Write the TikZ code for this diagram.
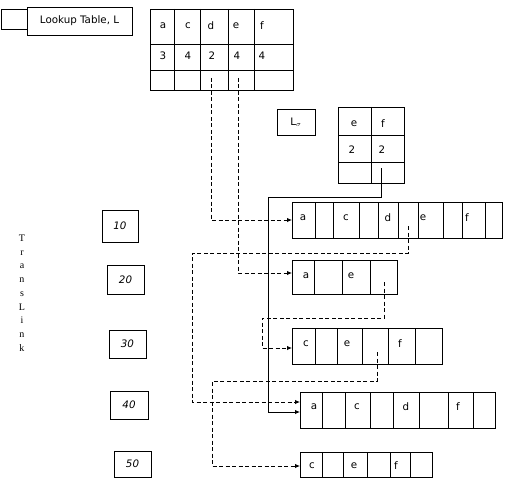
\documentclass[tikz,border=0pt]{standalone}
\usepackage{fontspec}
\setmainfont{DejaVu Sans}
\newfontfamily\tlserif{Liberation Serif}
\usetikzlibrary{arrows.meta,positioning}

\begin{document}
\begin{tikzpicture}[x=1pt,y=-1pt,
  box/.style={draw,line width=0.9pt,inner sep=0pt,outer sep=0pt},
  grid/.style={line width=0.9pt},
  lbl/.style={font=\fontsize{10.3}{12}\selectfont,inner sep=0pt},
  numbox/.style={box,font=\fontsize{10.3}{12}\selectfont\itshape},
  link/.style={line width=0.9pt,dash pattern=on 4pt off 2.5pt,-{Latex[length=5pt,width=4.5pt]}},
  tie/.style={line width=0.9pt,-{Latex[length=5pt,width=4.5pt]}}]
  \useasboundingbox (0,0) rectangle (505,481);

  % title of the lookup table
  \node[box,minimum width=26pt,minimum height=20pt] (lkTag) at (14,19) {};
  \node[box,fill=white,minimum width=105pt,minimum height=28pt,lbl] (lkName) at (79.5,21) {Lookup Table, L};

  % lookup table L
  \draw[grid] (150,9) rectangle (293,90);
  \foreach \x in {174,200,228,254} \draw[grid] (\x,9) -- (\x,90);
  \foreach \y in {44,70} \draw[grid] (150,\y) -- (293,\y);
  \foreach \x/\t [count=\i] in {163/a,188/c,211/d,236/e,262/f}
    \node[lbl] (hd\i) at (\x,26) {\t};
  \foreach \x/\t [count=\i] in {163/3,188/4,212/2,237/4,262/4}
    \node[lbl] (ct\i) at (\x,56) {\t};
  \coordinate (dL) at (211,78);
  \coordinate (eL) at (238,78);

  % table L sigma
  \node[box,minimum width=38pt,minimum height=26pt,lbl] (lsName) at (296,122) {L$_\sigma$};
  \draw[grid] (338,107) rectangle (404,183);
  \draw[grid] (371,107) -- (371,183);
  \foreach \y in {135,162} \draw[grid] (338,\y) -- (404,\y);
  \node[lbl] (shd1) at (354,124) {e};
  \node[lbl] (shd2) at (383,124) {f};
  \node[lbl] (sct1) at (352,150) {2};
  \node[lbl] (sct2) at (382,150) {2};
  \coordinate (sig) at (381,168);
  \coordinate (trunk) at (268,197);

  % TransLink list
  \node[font=\tlserif\fontsize{10}{13.75}\selectfont,align=center,inner sep=0pt] (tlName) at (22,293) {T\\r\\a\\n\\s\\L\\i\\n\\k};
  \foreach \n/\cx/\cy/\w/\h in {10/120/226/36/32,20/125.5/279.5/37/29,30/127.5/344/37/28,40/129/405/38/28,50/132.5/464/37/26}
    \node[numbox,minimum width=\w pt,minimum height=\h pt] (tl\n) at (\cx,\cy) {\n};

  % item arrays
  \node[box,minimum width=210pt,minimum height=36pt] (arrA) at (397,220) {};
  \foreach \x in {315,333,359,378,398,418,443,462,485} \draw[grid] (\x,202) -- (\x,238);
  \foreach \x/\t [count=\i] in {303/a,346/c,388/d,423/e,467/f} \node[lbl] (a\i) at (\x,218) {\t};

  \node[box,minimum width=105pt,minimum height=34pt] (arrB) at (344.5,277) {};
  \foreach \x in {314,342,370} \draw[grid] (\x,260) -- (\x,294);
  \foreach \x/\t [count=\i] in {306/a,351/e} \node[lbl] (b\i) at (\x,276) {\t};

  \node[box,minimum width=150pt,minimum height=36pt] (arrC) at (367,346) {};
  \foreach \x in {315,337,362,388,415} \draw[grid] (\x,328) -- (\x,364);
  \foreach \x/\t [count=\i] in {306/c,347/e,400/f} \node[lbl] (c\i) at (\x,344) {\t};

  \node[box,minimum width=195pt,minimum height=36pt] (arrD) at (397.5,410) {};
  \foreach \x in {322,345,370,393,419,448,473} \draw[grid] (\x,392) -- (\x,428);
  \foreach \x/\t [count=\i] in {314/a,357/c,406/d,458/f} \node[lbl] (d\i) at (\x,407) {\t};

  \node[box,minimum width=132pt,minimum height=25pt] (arrE) at (366,464.5) {};
  \foreach \x in {322,343,367,390,410} \draw[grid] (\x,452) -- (\x,477);
  \foreach \x/\t [count=\i] in {312/c,354/e,396/f} \node[lbl] (e\i) at (\x,466) {\t};

  % links between the arrays
  \coordinate (dA) at (408,226);
  \coordinate (dB) at (384,282);
  \coordinate (dC) at (377,352);
  \draw[link] (dL) |- (arrA.west);
  \draw[link] (eL) |- ([yshift=4pt]arrB.west);
  \draw[link] (dA) |- (192,253) |- ([yshift=8pt]arrD.west);
  \draw[link] (dB) |- (262,318) |- ([yshift=-2pt]arrC.west);
  \draw[link] (dC) |- (212,381) |- ([yshift=-1.5pt]arrE.west);
  \draw[tie] (sig) |- (trunk) |- ([yshift=-2pt]arrD.west);
\end{tikzpicture}
\end{document}
